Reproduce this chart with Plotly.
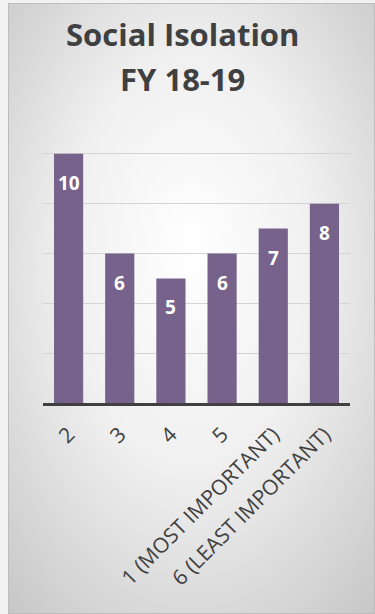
import plotly.graph_objects as go
import base64

categories = ["2", "3", "4", "5", "1 (MOST IMPORTANT)", "6 (LEAST IMPORTANT)"]
values = [10, 6, 5, 6, 7, 8]
title_lines = ["Social Isolation", "FY 18-19"]

W, H = 375, 614
ML, MR, MT, MB = 43, 25, 104, 211
PW, PH = W - ML - MR, H - MT - MB

def px_to_paper_x(p):
    return (p - ML) / PW

def px_to_paper_y(q):
    return (H - MB - q) / PH

svg = (
    '<svg xmlns="http://www.w3.org/2000/svg" width="367" height="611" viewBox="0 0 367 611" preserveAspectRatio="none">'
    '<defs><radialGradient id="g" cx="0.5" cy="0.45" r="0.75" fx="0.5" fy="0.4">'
    '<stop offset="0" stop-color="#ffffff"/>'
    '<stop offset="0.45" stop-color="#f0f0f0"/>'
    '<stop offset="1" stop-color="#c6c6c6"/>'
    '</radialGradient></defs>'
    '<rect x="0" y="0" width="367" height="611" fill="url(#g)"/>'
    '<rect x="0.5" y="0.5" width="366" height="610" fill="none" stroke="#bdbdbd" stroke-width="1"/>'
    '</svg>'
)
src = "data:image/svg+xml;base64," + base64.b64encode(svg.encode()).decode()

fig = go.Figure()
fig.add_trace(go.Bar(
    x=categories, y=values,
    marker=dict(color="#76628a", line=dict(width=0)),
    hoverinfo="skip",
))

for i, v in enumerate(values):
    fig.add_annotation(
        x=i, y=v, xref="x", yref="y",
        text=f"<b>{v}</b>", showarrow=False,
        yshift=-29,
        font=dict(family="Open Sans", size=19, color="#ffffff"),
    )

title_centers = [34, 79]
for line, cy in zip(title_lines, title_centers):
    fig.add_annotation(
        x=px_to_paper_x(182), y=px_to_paper_y(cy), xref="paper", yref="paper",
        xanchor="center", yanchor="middle",
        text=f"<b>{line}</b>", showarrow=False,
        font=dict(family="Open Sans", size=31, color="#404040"),
    )

fig.update_layout(
    width=W, height=H,
    margin=dict(l=ML, r=MR, t=MT, b=MB, pad=0),
    paper_bgcolor="#f2f2f2",
    plot_bgcolor="rgba(0,0,0,0)",
    bargap=0.43,
    showlegend=False,
    images=[dict(
        source=src, xref="paper", yref="paper",
        x=px_to_paper_x(8), y=px_to_paper_y(3),
        sizex=px_to_paper_x(375) - px_to_paper_x(8),
        sizey=px_to_paper_y(3) - px_to_paper_y(614),
        xanchor="left", yanchor="top", sizing="stretch", layer="below",
    )],
    xaxis=dict(
        type="category",
        tickangle=-45,
        tickfont=dict(family="Open Sans", size=21, color="#404040"),
        ticklabelstandoff=8,
        showline=True, linecolor="#404040", linewidth=3,
        showgrid=False, ticks="",
        fixedrange=True,
        automargin=False,
    ),
    yaxis=dict(
        range=[0, 12], dtick=2,
        showticklabels=False,
        showgrid=True, gridcolor="#d4d4d4", gridwidth=1.3,
        zeroline=False, showline=False, ticks="",
        fixedrange=True,
        automargin=False,
    ),
)

fig.write_html(
    "out.html",
    config={"displayModeBar": False},
    post_script="document.body.style.margin='0';document.body.style.overflow='hidden';",
)
